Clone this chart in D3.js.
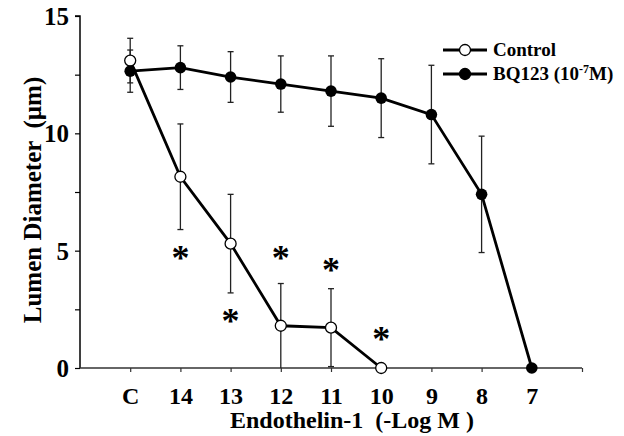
<!DOCTYPE html>
<html><head><meta charset="utf-8">
<script src="https://cdn.jsdelivr.net/npm/d3@7"></script>
<style>
html,body{margin:0;padding:0;background:#fff;}
svg text{font-family:"Liberation Serif","Times New Roman",Times,"DejaVu Serif",serif !important;font-weight:bold;}
</style></head>
<body>
<svg id="chart" width="624" height="436"></svg>
<script>
const categories = ["C","14","13","12","11","10","9","8","7"];
const controlMean = [13.1, 8.15, 5.3, 1.8, 1.72, 0];
const controlErr  = [0.95, 2.25, 2.1, 1.8, 1.66, 0];
const bqMean = [12.65, 12.8, 12.4, 12.1, 11.8, 11.5, 10.8, 7.4, 0];
const bqErr  = [0.9, 0.93, 1.08, 1.2, 1.5, 1.68, 2.1, 2.48, 0];
const asteriskCats = ["14","13","12","11","10"];
const asteriskVals = [4.9, 2.2, 4.9, 4.4, 1.45];
const yTicks = [0, 5, 10, 15];
const yMinorTicks = [2.5, 7.5, 12.5];
const seriesNames = ["Control", "BQ123 (10"];

const FONT = '"Liberation Serif","Times New Roman",Times,serif';
const svg = d3.select("#chart");
const x = d3.scaleLinear().domain([-1, 9]).range([80, 582]);
const y = d3.scaleLinear().domain([0, 15]).range([368, 16]);
const xi = c => x(categories.indexOf(c));

// axes
const yAxis = d3.axisLeft(y).tickValues(yTicks.concat(yMinorTicks)).tickSize(5)
  .tickFormat(d => yTicks.includes(d) ? d : "");
const gy = svg.append("g").attr("transform", `translate(${x(-1)},0)`).call(yAxis)
  .attr("font-family", FONT);
gy.select(".domain").attr("stroke", "#000").attr("stroke-width", 1.5).attr("d", `M-5,${y(15)}H0V${y(0)}`);
gy.selectAll(".tick line").attr("stroke", "#000").attr("stroke-width", 1.2);
gy.selectAll(".tick text").attr("font-size", 25).attr("x", -11).attr("dy", "0.34em")
  .attr("font-weight", "bold").attr("fill", "#000");

const xAxis = d3.axisBottom(x).tickValues(d3.range(0, 10)).tickSize(4)
  .tickFormat(i => categories[i] || "");
const gx = svg.append("g").attr("transform", `translate(0,${y(0)})`).call(xAxis)
  .attr("font-family", FONT);
gx.select(".domain").attr("stroke", "#333").attr("stroke-width", 1.5).attr("d", `M${x(-1)},0H${x(9)}`);
gx.selectAll(".tick line").attr("stroke", "#333").attr("stroke-width", 1.2);
gx.selectAll(".tick text").attr("font-size", 24).attr("y", 0).attr("dy", "36")
  .attr("font-weight", "bold").attr("fill", "#000");

// axis titles
svg.append("text").attr("x", 352).attr("y", 428).attr("text-anchor", "middle").attr("font-family", FONT)
  .attr("font-size", 24).attr("xml:space", "preserve").text("Endothelin-1  (-Log M )");
svg.append("text").attr("transform", "translate(41,200) rotate(-90)").attr("text-anchor", "middle").attr("font-family", FONT)
  .attr("font-size", 25).attr("xml:space", "preserve").text("Lumen Diameter  (\u00b5m)");

// lines
const line = d3.line().x((d, i) => x(i)).y(d => y(d));
svg.append("path").attr("d", line(controlMean)).attr("fill", "none").attr("stroke", "#000").attr("stroke-width", 2.8);
svg.append("path").attr("d", line(bqMean)).attr("fill", "none").attr("stroke", "#000").attr("stroke-width", 2.8);

// error bars
function errBars(means, errs) {
  const g = svg.append("g").attr("stroke", "#222").attr("stroke-width", 1.3);
  means.forEach((m, i) => {
    if (!errs[i]) return;
    const lo = Math.max(0, m - errs[i]), hi = m + errs[i];
    g.append("line").attr("x1", x(i)).attr("x2", x(i)).attr("y1", y(lo)).attr("y2", y(hi));
    g.append("line").attr("x1", x(i) - 3).attr("x2", x(i) + 3).attr("y1", y(hi)).attr("y2", y(hi));
    if (lo > 0) g.append("line").attr("x1", x(i) - 3).attr("x2", x(i) + 3).attr("y1", y(lo)).attr("y2", y(lo));
  });
}
errBars(controlMean, controlErr);
errBars(bqMean, bqErr);

// points
svg.append("g").selectAll("circle").data(controlMean).join("circle")
  .attr("cx", (d, i) => x(i)).attr("cy", d => y(d)).attr("r", 5.5)
  .attr("fill", "#fff").attr("stroke", "#000").attr("stroke-width", 1.3);
svg.append("g").selectAll("circle").data(bqMean).join("circle")
  .attr("cx", (d, i) => x(i)).attr("cy", d => y(d)).attr("r", 5.8)
  .attr("fill", "#000");

// asterisks
svg.append("g").selectAll("text").data(asteriskVals).join("text")
  .attr("x", (d, i) => xi(asteriskCats[i])).attr("y", d => y(d) + 17)
  .attr("text-anchor", "middle").attr("font-family", FONT).attr("font-size", 36).text("*");

// legend
const leg = svg.append("g");
[[50, true], [74, false]].forEach(([ly, open], k) => {
  leg.append("line").attr("x1", 443).attr("x2", 487).attr("y1", ly).attr("y2", ly)
    .attr("stroke", "#000").attr("stroke-width", 2.8);
  leg.append("circle").attr("cx", 465).attr("cy", ly).attr("r", 5.5)
    .attr("fill", open ? "#fff" : "#000").attr("stroke", "#000").attr("stroke-width", 1.3);
});
leg.append("text").attr("x", 493).attr("y", 56).attr("font-family", FONT).attr("font-size", 19).text(seriesNames[0]);
const t2 = leg.append("text").attr("x", 493).attr("y", 80).attr("font-family", FONT).attr("font-size", 19);
t2.append("tspan").text(seriesNames[1]);
t2.append("tspan").attr("font-size", 12).attr("dy", -7).text("-7");
t2.append("tspan").attr("dy", 7).text("M)");
</script>
</body></html>
